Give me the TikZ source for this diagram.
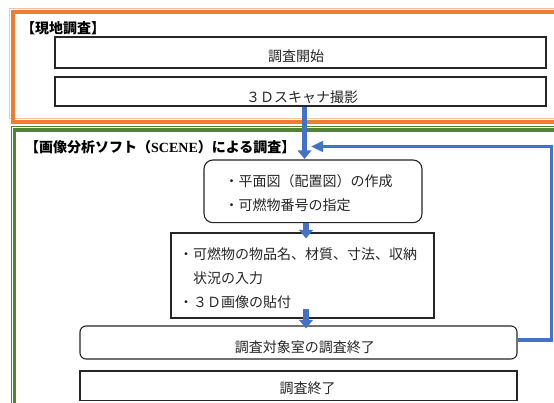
\documentclass[tikz,border=0pt]{standalone}
\usepackage{fontspec}
\setmainfont{Noto Sans CJK JP}
\newfontfamily\latfont{Liberation Serif}
\usetikzlibrary{arrows.meta,calc}
\definecolor{ora}{HTML}{ED7D31}
\definecolor{oral}{HTML}{F6C3A0}
\definecolor{grn}{HTML}{548235}
\definecolor{blu}{HTML}{4472C4}
\newcommand\off[3]{\raisebox{-#2}[\height][\depth]{\kern#1\relax#3\kern-#1\relax}}
\newcommand\tallfirst[2]{\raisebox{0pt}[\dimexpr\height+#1\relax][\depth]{#2}}
\begin{document}
\begin{tikzpicture}[x=1pt,y=-1pt,
  box/.style={draw=black!85, line width=1.1pt, inner sep=0pt, fill=white,
    font=\fontsize{14}{24}\selectfont, text=black!85},
  multibox/.style={box, align=left},
  lab/.style={inner sep=0pt, font=\fontsize{14}{16}\selectfont\bfseries},
  bigarrow/.style={blu, line width=5.5pt, -{Triangle[length=8.5pt,width=13.5pt]}},
  fbarrow/.style={blu, line width=3.2pt, -{Triangle[length=12pt,width=10.5pt]}}]
\useasboundingbox (0,0) rectangle (554,403);
\clip (0,0) rectangle (554,403);
\fill[white] (0,0) rectangle (554,403);
% frames
\draw[oral, line width=1pt] (9.5,9) rectangle (600,118.5);
\draw[ora, line width=4pt] (13,12.5) rectangle (600,122.5);
\draw[grn, line width=0.8pt] (11,126) rectangle (600,450);
\draw[grn, line width=3.2pt] (14.5,130) rectangle (600,450);
% labels
\node[lab, anchor=west] (lab1) at (21,28) {【現地調査】};
\node[lab, anchor=west] (lab2) at (25,146.7) {【画像分析ソフト（{\latfont SCENE}）による調査】};
% boxes
\node[box, minimum width=491pt, minimum height=31pt] (start) at (300.5,52.5)
  {\off{-4.5pt}{3.3pt}{調査開始}};
\node[box, minimum width=491pt, minimum height=29pt] (scan) at (300.5,91.5)
  {\off{1.5pt}{6pt}{３Ｄスキャナ撮影}};
\node[multibox, rounded corners=9pt, minimum width=218pt, minimum height=62.7pt,
  text width=177pt, inner xsep=20.5pt] (plan) at (313,191.35)
  {\tallfirst{3.2pt}{・平面図（配置図）の作成}\\・可燃物番号の指定};
\node[multibox, minimum width=263pt, minimum height=85pt,
  text width=247pt, inner xsep=8pt] (input) at (302.5,275.5)
  {\tallfirst{6pt}{・可燃物の物品名、材質、寸法、収納}\\\hspace*{1em}状況の入力\\・３Ｄ画像の貼付};
\node[box, rounded corners=6pt, minimum width=437pt, minimum height=33pt] (room) at (298.5,342.5)
  {\off{6.3pt}{4.5pt}{調査対象室の調査終了}};
\node[box, minimum width=437pt, minimum height=29.7pt] (finish) at (298.5,385.85)
  {\off{9pt}{2.4pt}{調査終了}};
% arrows
\coordinate (ax1) at (304.5,0);
\coordinate (ax2) at (306,0);
\coordinate (fbR) at (551.5,146.5);
\coordinate (fbTip) at (311,146.5);
\draw[bigarrow] (scan.south -| ax1) -- ($(plan.north -| ax1)+(0,-0.5)$);
\draw[bigarrow] (plan.south -| ax2) -- ($(input.north -| ax2)+(0,6)$);
\draw[bigarrow] ($(input.south -| ax2)+(0,-10)$) -- ($(room.north -| ax2)+(0,3)$);
\draw[fbarrow] ($(room.east)+(0,-2.5)$) -| (fbR) -- (fbTip);
\end{tikzpicture}
\end{document}
